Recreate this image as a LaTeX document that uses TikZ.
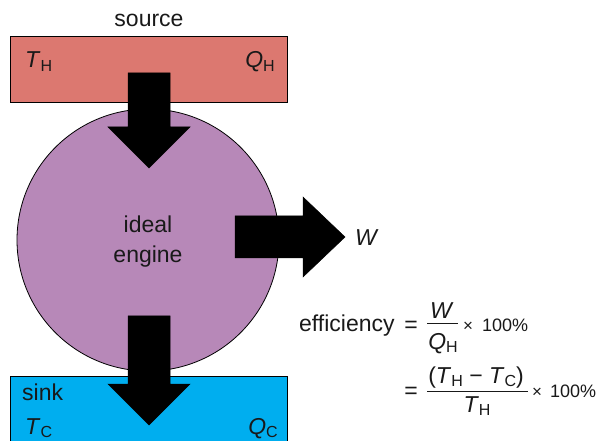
\documentclass[tikz,border=0pt]{standalone}
\usepackage{fontspec}
\setmainfont{Liberation Sans}
\definecolor{srcred}{RGB}{220,120,112}
\definecolor{engpurple}{RGB}{183,136,184}
\definecolor{sinkblue}{RGB}{0,174,239}
\definecolor{txt}{RGB}{25,25,25}
\newcommand\sbs[1]{\raisebox{-0.3ex}{\fontsize{16}{16}\selectfont #1}}
\begin{document}
\begin{tikzpicture}[x=1pt,y=-1pt,
  font=\fontsize{23}{27}\selectfont,
  reservoir/.style={draw=black, line width=0.8pt},
  bigarrow/.style={fill=black, draw=black, line width=0.5pt, line join=miter},
  lbl/.style={anchor=base, inner sep=0pt, text=txt},
  fracbar/.style={draw=txt, line width=0.9pt},
  pct/.style={lbl, anchor=base west, font=\fontsize{18}{21}\selectfont},
  tms/.style={lbl, font=\fontsize{17}{20}\selectfont}]
\useasboundingbox (0,0) rectangle (598,441);
% reservoirs
\draw[reservoir, fill=srcred] (10,36) rectangle (287,102);
\draw[reservoir, fill=sinkblue] (10,376) rectangle (287,450);
% engine
\node[circle, draw=black, line width=0.8pt, fill=engpurple, minimum size=262pt, inner sep=0pt] (engine) at (148,240) {};
% arrows
\draw[bigarrow] (128,73) -- (170,73) -- (170,127) -- (190,127) -- (149,168) -- (108,127) -- (128,127) -- cycle;
\draw[bigarrow] (128,316) -- (170,316) -- (170,384) -- (190,384) -- (149,425) -- (108,384) -- (128,384) -- cycle;
\draw[bigarrow] (235,216) -- (303,216) -- (303,197) -- (345,237) -- (303,277) -- (303,258) -- (235,258) -- cycle;
% labels
\node[lbl] (src) at (149,27) {source};
\node[lbl, anchor=base west] (th) at (25,68) {\textit{T}\sbs{H}};
\node[lbl, anchor=base east] (qh) at (275,68) {\textit{Q}\sbs{H}};
\node[lbl] (ideal) at (148,233) {ideal};
\node[lbl] (engtxt) at (148,263) {engine};
\node[lbl, anchor=base west] (w) at (355,246) {\textit{W}};
\node[lbl, anchor=base west] (sinklbl) at (22,400) {sink};
\node[lbl, anchor=base west] (tc) at (25,434) {\textit{T}\sbs{C}};
\node[lbl, anchor=base east] (qc) at (278,434) {\textit{Q}\sbs{C}};
% equation line 1
\node[lbl, anchor=base west] (eff) at (299,331) {efficiency};
\node[lbl] (eqa) at (411,333) {=};
\node[lbl] (numa) at (442,319) {\textit{W}};
\draw[fracbar] (427,323) -- (458,323);
\node[lbl] (dena) at (443,349) {\textit{Q}\sbs{H}};
\node[tms] (timesa) at (468,331) {×};
\node[pct] (pcta) at (482,331) {100\%};
% equation line 2
\node[lbl] (eqb) at (411,399) {=};
\node[lbl] (numb) at (476,383) {(\textit{T}\sbs{H} − \textit{T}\sbs{C})};
\draw[fracbar] (427,391) -- (528,391);
\node[lbl] (denb) at (477,412) {\textit{T}\sbs{H}};
\node[tms] (timesb) at (537,397) {×};
\node[pct] (pctb) at (550,397) {100\%};
\end{tikzpicture}
\end{document}
